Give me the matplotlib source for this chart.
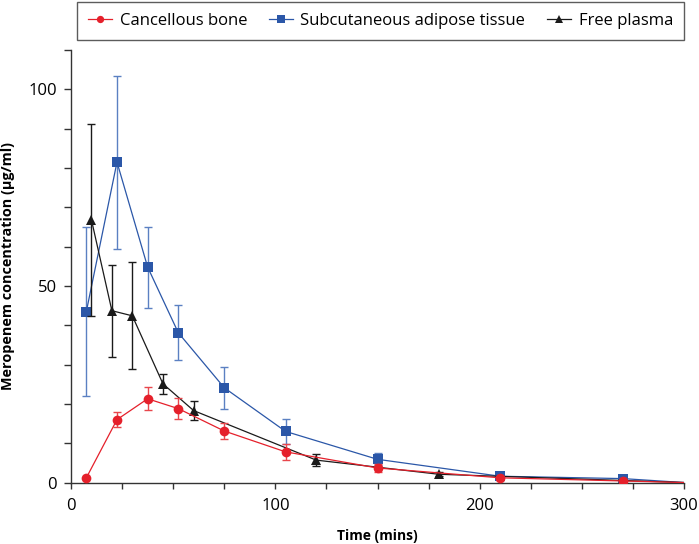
import matplotlib
matplotlib.use("Agg")
import matplotlib.pyplot as plt
import numpy as np

plt.rcParams['font.family'] = ['Open Sans', 'DejaVu Sans']

# Data
t_tissue = [7.5, 22.5, 37.5, 52.5, 75, 105, 150, 210, 270, 300]
bone_mean = [1.2, 16.0, 21.3, 18.8, 13.1, 7.8, 3.7, 1.2, 0.4, 0.0]
bone_err = [0.0, 2.0, 2.9, 2.6, 2.0, 2.0, 1.0, 0.5, 0.3, 0.0]
adipose_mean = [43.5, 81.5, 54.8, 38.1, 24.1, 13.0, 5.9, 1.6, 1.0, 0.0]
adipose_err = [21.5, 22.0, 10.3, 7.0, 5.3, 3.1, 1.5, 0.6, 0.4, 0.0]
t_plasma = [10, 20, 30, 45, 60, 120, 180, 300]
plasma_mean = [66.8, 43.7, 42.4, 25.1, 18.3, 5.7, 2.1, 0.0]
plasma_err = [24.5, 11.7, 13.6, 2.6, 2.5, 1.6, 0.5, 0.0]

labels = ["Cancellous bone", "Subcutaneous adipose tissue", "Free plasma"]

red = "#e5202b"
red_err = "#e8464c"
blue = "#2b57a8"
blue_err = "#5b80c2"
black = "#1a1a1a"

fig = plt.figure(figsize=(6.99, 5.44), dpi=100)
ax = fig.add_axes([0.1016, 0.113, 0.877, 0.795])

def series(t, m, e, color, ecolor, marker, ms, label, z):
    n = len(t) - 1
    ax.errorbar(t[:n], m[:n], yerr=e[:n], fmt='none', ecolor=ecolor,
                elinewidth=1.0, capsize=3, capthick=1.0, zorder=z)
    ax.plot(t, m, color=color, lw=0.9, marker=marker, ms=ms,
            markevery=list(range(n)), label=label, zorder=z + 0.5,
            markeredgewidth=0)

series(t_tissue, adipose_mean, adipose_err, blue, blue_err, 's', 7, labels[1], 2)
series(t_plasma, plasma_mean, plasma_err, black, black, '^', 7, labels[2], 3)
series(t_tissue, bone_mean, bone_err, red, red_err, 'o', 7, labels[0], 4)

ax.set_xlim(0, 300)
ax.set_ylim(0, 110)
ax.set_xticks([0, 100, 200, 300])
ax.set_xticks(np.arange(0, 301, 25), minor=True)
ax.set_yticks([0, 50, 100])
ax.set_yticks(np.arange(0, 111, 10), minor=True)
ax.spines['top'].set_visible(False)
ax.spines['right'].set_visible(False)
for s in ['left', 'bottom']:
    ax.spines[s].set_linewidth(1.0)
    ax.spines[s].set_color('#333333')
ax.tick_params(axis='both', which='both', direction='out', width=1.0,
               color='#333333', labelsize=12)
ax.tick_params(axis='x', which='both', length=4, pad=7)
ax.tick_params(axis='y', which='both', length=5, pad=5)

ax.set_xlabel("Time (mins)", fontsize=10, fontweight='bold')
ax.set_ylabel("Meropenem concentration (μg/ml)", fontsize=10.4, fontweight='bold')
ax.xaxis.set_label_coords(0.5, -0.108)
ax.yaxis.set_label_coords(-0.092, 0.5)

h, l = ax.get_legend_handles_labels()
order = [l.index(x) for x in labels]
leg = fig.legend([h[i] for i in order], [l[i] for i in order],
                 loc='upper left', bbox_to_anchor=(77 / 699, 1 - 2 / 544),
                 ncol=3, fontsize=12, frameon=True, fancybox=False,
                 handlelength=1.45, handletextpad=0.45, columnspacing=1.3,
                 borderpad=0.65, borderaxespad=0, markerscale=0.75)
leg.get_frame().set_edgecolor('#333333')
leg.get_frame().set_linewidth(1.0)

fig.savefig("out.png", dpi=100)
